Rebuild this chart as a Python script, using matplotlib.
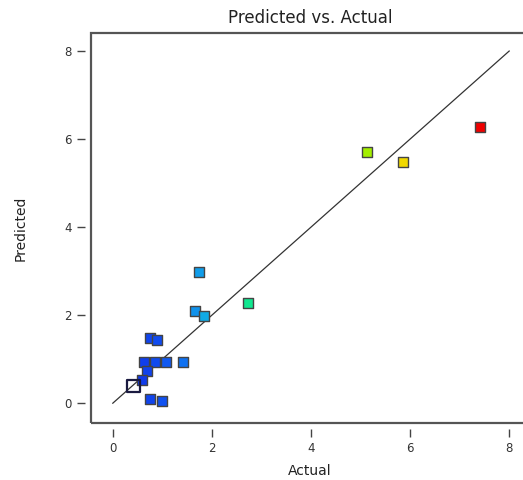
import numpy as np
import matplotlib.pyplot as plt
from matplotlib.colors import LinearSegmentedColormap
from matplotlib.patches import Rectangle

# actual vs predicted values
actual = [7.41, 5.86, 5.13, 2.73, 1.74, 1.66, 1.84, 1.41,
          0.76, 0.89, 0.63, 0.86, 1.08, 0.70, 0.58, 0.75, 1.00]
predicted = [6.27, 5.48, 5.70, 2.27, 2.98, 2.09, 1.98, 0.93,
             1.48, 1.43, 0.93, 0.93, 0.93, 0.74, 0.52, 0.09, 0.05]
hollow_point = (0.42, 0.39)
x_ticks = [0, 2, 4, 6, 8]
y_ticks = [0, 2, 4, 6, 8]

cmap = LinearSegmentedColormap.from_list(
    "de", [(0.0, "#1034e8"), (0.08, "#1050f0"), (0.14, "#1070f0"),
           (0.2, "#10a8e8"), (0.33, "#10e890"), (0.67, "#a0f000"),
           (0.78, "#f0d800"), (1.0, "#f00000")])
vmin, vmax = 0.42, 7.41

fig = plt.figure(figsize=(5.23, 4.80), dpi=100)
ax = fig.add_axes([91 / 523, 57 / 480, 438 / 523, 390 / 480])

ax.plot([0, 8], [0, 8], color="#333333", linewidth=0.9, zorder=1)

cols = [cmap((a - vmin) / (vmax - vmin)) for a in actual]
ax.scatter(actual, predicted, marker="s", s=52, c=cols,
           edgecolors="#444444", linewidths=1.0, zorder=3)
ax.scatter([hollow_point[0]], [hollow_point[1]], marker="s", s=80,
           facecolors="none", edgecolors="#1a1a40", linewidths=1.6, zorder=4)

ax.set_xlim(-0.44, 8.40)
ax.set_ylim(-0.45, 8.41)
ax.set_xticks(x_ticks)
ax.set_yticks(y_ticks)

# ticks sit a little away from the frame
for side in ["left", "bottom"]:
    ax.spines[side].set_position(("outward", 4))
    ax.spines[side].set_visible(False)
for side in ["top", "right"]:
    ax.spines[side].set_visible(False)
ax.add_patch(Rectangle((0, 0), 1, 1, transform=ax.transAxes, fill=False,
                       edgecolor="#555555", linewidth=1.6, clip_on=False))

ax.tick_params(direction="out", length=6, width=1.0, color="#444444",
               labelsize=8.5, labelcolor="#333333", pad=4)

ax.set_title("Predicted vs. Actual", fontsize=12, color="#222222", pad=7)
ax.set_xlabel("Actual", fontsize=10, color="#222222", labelpad=6)
ax.set_ylabel("Predicted", fontsize=10, color="#222222", labelpad=26)

fig.savefig("out.png", dpi=100)
